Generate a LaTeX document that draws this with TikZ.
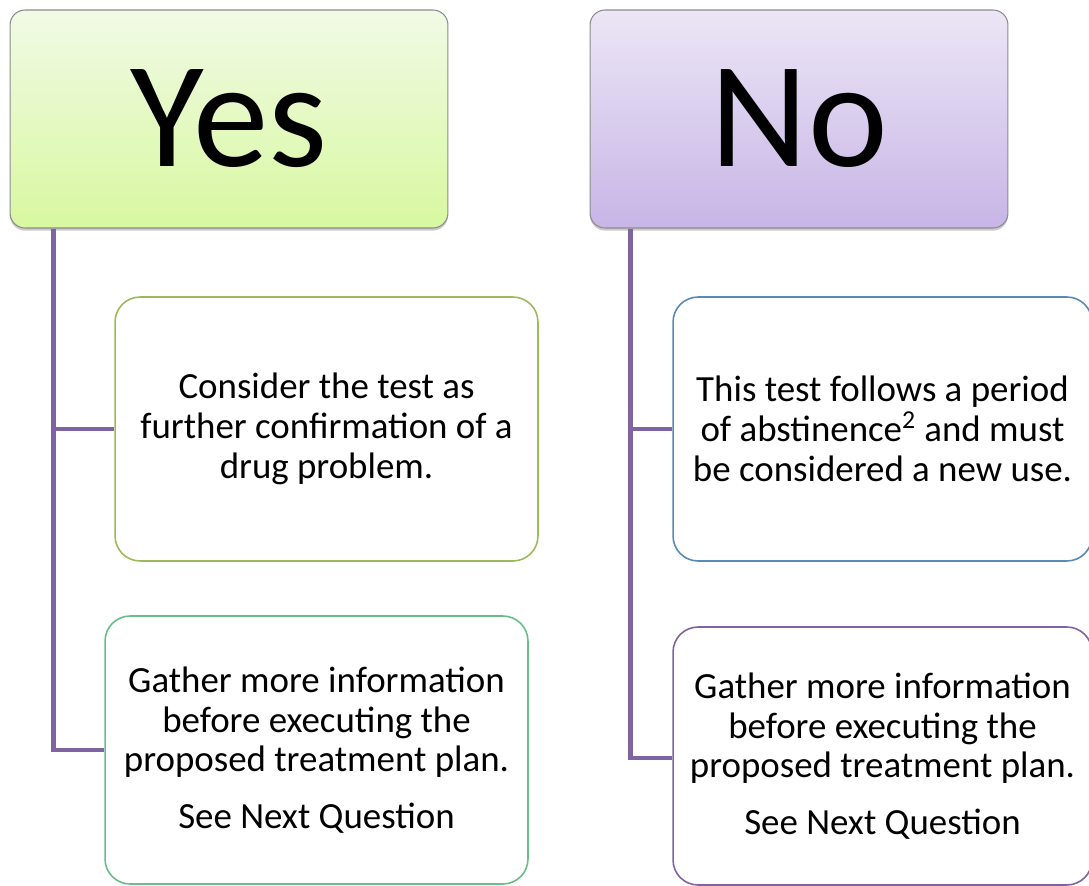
\documentclass[tikz,border=0pt]{standalone}
\usepackage{fontspec}
\setmainfont{Carlito}
\usepackage{tikz}
\definecolor{yestop}{RGB}{241,250,230}
\definecolor{yesbot}{RGB}{216,248,160}
\definecolor{notop}{RGB}{236,230,246}
\definecolor{nobot}{RGB}{199,181,230}
\definecolor{trunkpurple}{RGB}{128,100,162}
\definecolor{boxgreen}{RGB}{155,187,89}
\definecolor{boxteal}{RGB}{104,190,136}
\definecolor{boxblue}{RGB}{88,138,184}
\definecolor{boxpurple}{RGB}{128,100,162}
\usetikzlibrary{positioning}
\usetikzlibrary{shadows}
\tikzset{head/.style={
    draw=black!45, line width=0.6pt, rounded corners=0.3cm,
    minimum height=4.36cm, inner sep=0pt,
    font=\fontsize{86}{100}\selectfont,
    drop shadow={shadow xshift=0pt, shadow yshift=-1.5pt, opacity=0.35, fill=black!60},
    #1
  },
  choice/.style={
    draw=#1, line width=0.9pt, rounded corners=0.5cm, fill=white,
    align=center, inner sep=0pt,
    font=\fontsize{21}{22.7}\selectfont
  },
  trunk/.style={
    draw=trunkpurple, line width=2.8pt
  }
}
\begin{document}
\begin{tikzpicture}[x=0.02cm,y=-0.02cm]
      \useasboundingbox (0,0) rectangle (1089,886);
      \clip (0,0) rectangle (1089,886);
      % header boxes
      \node[head={top color=yestop, bottom color=yesbot}, minimum width=8.76cm] (yes) at (229,119) {Yes};
      \node[head={top color=notop, bottom color=nobot}, minimum width=8.36cm] (no) at (799,119) {No};
      % answer boxes
      \node[choice=boxgreen, minimum width=8.46cm, minimum height=5.28cm] (confirm) at (326.5,429)
        {Consider the test as\\further confirmation of a\\drug problem.};
      \node[choice=boxteal, minimum width=8.46cm, minimum height=5.36cm] (gatheryes) at (316.5,750)
        {Gather more information\\before executing the\\proposed treatment plan.\\[9.6pt]See Next Question};
      \node[choice=boxblue, minimum width=8.38cm, minimum height=5.28cm] (newuse) at (882.5,429)
        {This test follows a period\\of abstinence\textsuperscript{2} and must\\be considered a new use.};
      \node[choice=boxpurple, minimum width=8.38cm, minimum height=5.16cm] (gatherno) at (882.5,756)
        {Gather more information\\before executing the\\proposed treatment plan.\\[9.6pt]See Next Question};
      % connectors
      \coordinate (yesroot) at ([xshift=0.88cm]yes.south west);
      \coordinate (noroot) at ([xshift=0.82cm]no.south west);
      \draw[trunk] (yesroot) |- (confirm.west);
      \draw[trunk] (yesroot) |- (gatheryes.west);
      \draw[trunk] (noroot) |- (newuse.west);
      \draw[trunk] (noroot) |- ([yshift=-0.04cm]gatherno.west);
      \end{tikzpicture}
\end{document}
